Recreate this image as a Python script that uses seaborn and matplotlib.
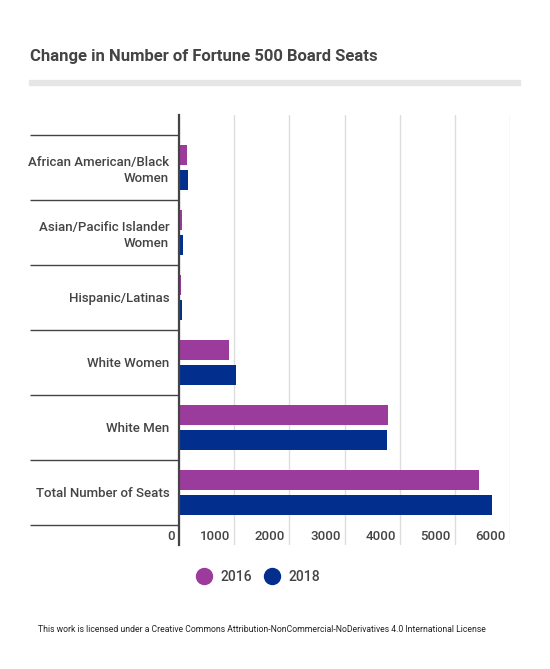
import matplotlib
matplotlib.use("Agg")
import matplotlib.pyplot as plt
import matplotlib.transforms as mtransforms
from matplotlib.lines import Line2D
import pandas as pd
import seaborn as sns

# chart data
groups = ["African American/Black\nWomen", "Asian/Pacific Islander\nWomen",
          "Hispanic/Latinas", "White Women", "White Men", "Total Number of Seats"]
seats_2016 = [143, 48, 45, 905, 3780, 5440]
seats_2018 = [161, 64, 50, 1030, 3766, 5670]
years = ["2016", "2018"]
colors = ["#9b3b9c", "#022f8e"]
x_ticks = [0, 1000, 2000, 3000, 4000, 5000, 6000]

df = pd.DataFrame({
    "group": groups * 2,
    "seats": seats_2016 + seats_2018,
    "year": [years[0]] * len(groups) + [years[1]] * len(groups),
})

sns.set_style("white")
plt.rcParams["font.family"] = ["Roboto", "DejaVu Sans"]
text_col = "#444444"

fig = plt.figure(figsize=(5.5, 6.69), dpi=100)
W, H = 550, 669
ax = fig.add_axes([179 / W, (H - 545) / H, (510 - 179) / W, (545 - 115) / H])

sns.barplot(data=df, x="seats", y="group", hue="year", orient="h",
            palette=colors, hue_order=years, order=groups, saturation=1,
            width=0.77, gap=0.2, legend=False, linewidth=0, ax=ax)

# layout of axes
pad = 20 / 65
ax.set_ylim(len(groups) - 0.5 + pad, -0.5 - pad)
ax.set_xlim(0, 6000)
ax.set_xlabel("")
ax.set_ylabel("")
for s in ["top", "right", "bottom"]:
    ax.spines[s].set_visible(False)
ax.spines["left"].set_color(text_col)
ax.spines["left"].set_linewidth(1.6)
ax.spines["left"].set_zorder(5)

# gridlines
ax.set_xticks(x_ticks)
ax.grid(axis="x", color="#dddddd", linewidth=1)
ax.set_axisbelow(True)
ax.tick_params(axis="x", length=0, pad=-10.5, labelsize=9.5, labelcolor=text_col)
ax.tick_params(axis="y", length=0, pad=7, labelsize=9.5, labelcolor=text_col)
shift = mtransforms.ScaledTranslation(-4 / 100, 0, fig.dpi_scale_trans)
for lab in ax.get_xticklabels():
    lab.set_ha("right")
    lab.set_fontweight("medium")
    lab.set_transform(lab.get_transform() + shift)
for lab in ax.get_yticklabels():
    lab.set_linespacing(1.3)
    lab.set_fontweight("medium")

# category separators extending into the label area
blend = mtransforms.blended_transform_factory(ax.transAxes, ax.transData)
bounds = [i - 0.5 for i in range(len(groups) + 1)]
ax.hlines(bounds, -(179 - 30) / (510 - 179), 0, transform=blend,
          colors=text_col, linewidth=1, clip_on=False)

# title and rule
fig.text(30 / W, 1 - 57 / H, "Change in Number of Fortune 500 Board Seats",
         fontsize=12, fontweight="bold", color=text_col, va="center", ha="left")
fig.patches.append(plt.Rectangle((29 / W, 1 - 85 / H), (520 - 29) / W, 5 / H,
                                 transform=fig.transFigure, color="#e6e6e6"))

# legend
handles = [Line2D([], [], marker="o", linestyle="", markersize=11.5,
                  markerfacecolor=c, markeredgecolor=c) for c in colors]
fig.legend(handles, years, loc="center", bbox_to_anchor=(258 / W, 1 - 577 / H),
           ncol=2, frameon=False, fontsize=10,
           prop={"weight": "medium", "size": 10}, labelcolor=text_col,
           handletextpad=0.6, columnspacing=0.8, handlelength=1.2)

# footer
fig.text(262 / W, 1 - 630 / H,
         "This work is licensed under a Creative Commons Attribution-NonCommercial-NoDerivatives 4.0 International License",
         fontsize=6.2, color="#222222", ha="center", va="center")

fig.savefig("out.png", dpi=100)
